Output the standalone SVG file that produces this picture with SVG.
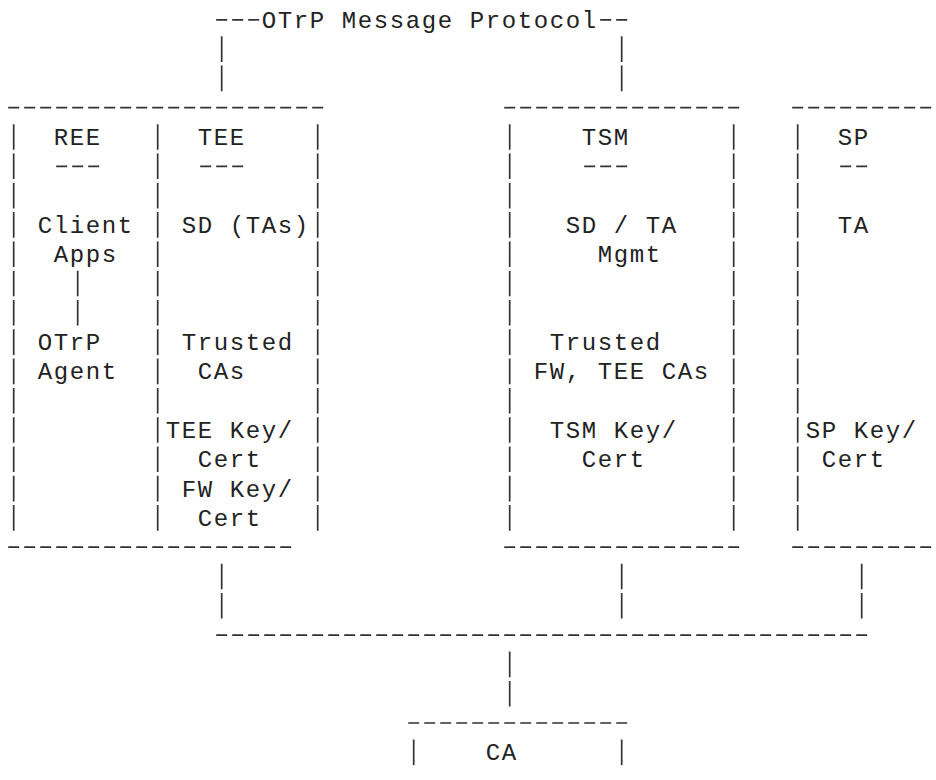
<svg xmlns="http://www.w3.org/2000/svg" width="936" height="780" viewBox="0 0 936 780">
<style>
  .bg{fill:#ffffff}
  line{stroke:#333;stroke-width:1.7;fill:none}
  .h{stroke-dasharray:11 5}
  .v{stroke-dasharray:25.6 3.7}
  text{font-family:"Liberation Mono","DejaVu Sans Mono",monospace;font-size:24px;letter-spacing:1.6px;fill:#222;white-space:pre}
</style>
<rect class="bg" x="0" y="0" width="936" height="780"/>

<g id="connectors">
  <!-- OTrP message protocol line -->
  <line class="h" x1="216.2" y1="19.8" x2="259.2" y2="19.8"/>
  <line class="h" x1="600.2" y1="19.8" x2="627.2" y2="19.8"/>
  <line class="v" x1="221.7" y1="36.3" x2="221.7" y2="91.2"/>
  <line class="v" x1="621.7" y1="36.3" x2="621.7" y2="91.2"/>
  <!-- Client Apps to OTrP Agent -->
  <line class="v" x1="77.7" y1="270.7" x2="77.7" y2="325.6"/>
  <!-- drops to CA bus -->
  <line class="v" x1="221.7" y1="563.7" x2="221.7" y2="618.6"/>
  <line class="v" x1="621.7" y1="563.7" x2="621.7" y2="618.6"/>
  <line class="v" x1="861.7" y1="563.7" x2="861.7" y2="618.6"/>
  <line class="h" x1="216.2" y1="635.1" x2="867.2" y2="635.1"/>
  <line class="v" x1="509.7" y1="651.6" x2="509.7" y2="706.5"/>
</g>

<g id="label-otrp">
  <text x="261.7" y="27.7">OTrP Message Protocol</text>
</g>

<g id="device">
  <line class="h" x1="8.2" y1="107.7" x2="323.2" y2="107.7"/>
  <line class="h" x1="8.2" y1="547.2" x2="291.2" y2="547.2"/>
  <line class="v" x1="13.7" y1="124.2" x2="13.7" y2="530.7"/>
  <line class="v" x1="157.7" y1="124.2" x2="157.7" y2="530.7"/>
  <line class="v" x1="317.7" y1="124.2" x2="317.7" y2="530.7"/>
  <g id="ree">
    <text x="53.7" y="144.9">REE</text>
    <line class="h" x1="56.2" y1="166.3" x2="99.2" y2="166.3"/>
    <text x="37.7" y="232.8">Client</text>
    <text x="53.7" y="262.1">Apps</text>
    <text x="37.7" y="350">OTrP</text>
    <text x="37.7" y="379.3">Agent</text>
  </g>
  <g id="tee">
    <text x="197.7" y="144.9">TEE</text>
    <line class="h" x1="200.2" y1="166.3" x2="243.2" y2="166.3"/>
    <text x="181.7" y="232.8">SD (TAs)</text>
    <text x="181.7" y="350">Trusted</text>
    <text x="197.7" y="379.3">CAs</text>
    <text x="165.7" y="437.9">TEE Key/</text>
    <text x="197.7" y="467.2">Cert</text>
    <text x="181.7" y="496.5">FW Key/</text>
    <text x="197.7" y="525.8">Cert</text>
  </g>
</g>

<g id="tsm">
  <line class="h" x1="504.2" y1="107.7" x2="739.2" y2="107.7"/>
  <line class="h" x1="504.2" y1="547.2" x2="739.2" y2="547.2"/>
  <line class="v" x1="509.7" y1="124.2" x2="509.7" y2="530.7"/>
  <line class="v" x1="733.7" y1="124.2" x2="733.7" y2="530.7"/>
  <text x="581.7" y="144.9">TSM</text>
  <line class="h" x1="584.2" y1="166.3" x2="627.2" y2="166.3"/>
  <text x="565.7" y="232.8">SD / TA</text>
  <text x="597.7" y="262.1">Mgmt</text>
  <text x="549.7" y="350">Trusted</text>
  <text x="533.7" y="379.3">FW, TEE CAs</text>
  <text x="549.7" y="437.9">TSM Key/</text>
  <text x="581.7" y="467.2">Cert</text>
</g>

<g id="sp">
  <line class="h" x1="792.2" y1="107.7" x2="931.2" y2="107.7"/>
  <line class="h" x1="792.2" y1="547.2" x2="931.2" y2="547.2"/>
  <line class="v" x1="797.7" y1="124.2" x2="797.7" y2="530.7"/>
  <text x="837.7" y="144.9">SP</text>
  <line class="h" x1="840.2" y1="166.3" x2="867.2" y2="166.3"/>
  <text x="837.7" y="232.8">TA</text>
  <text x="805.7" y="437.9">SP Key/</text>
  <text x="821.7" y="467.2">Cert</text>
</g>

<g id="ca">
  <line class="h" x1="408.2" y1="723" x2="627.2" y2="723"/>
  <line class="v" x1="413.7" y1="739.5" x2="413.7" y2="765.1"/>
  <line class="v" x1="621.7" y1="739.5" x2="621.7" y2="765.1"/>
  <text x="485.7" y="760.2">CA</text>
</g>
</svg>
